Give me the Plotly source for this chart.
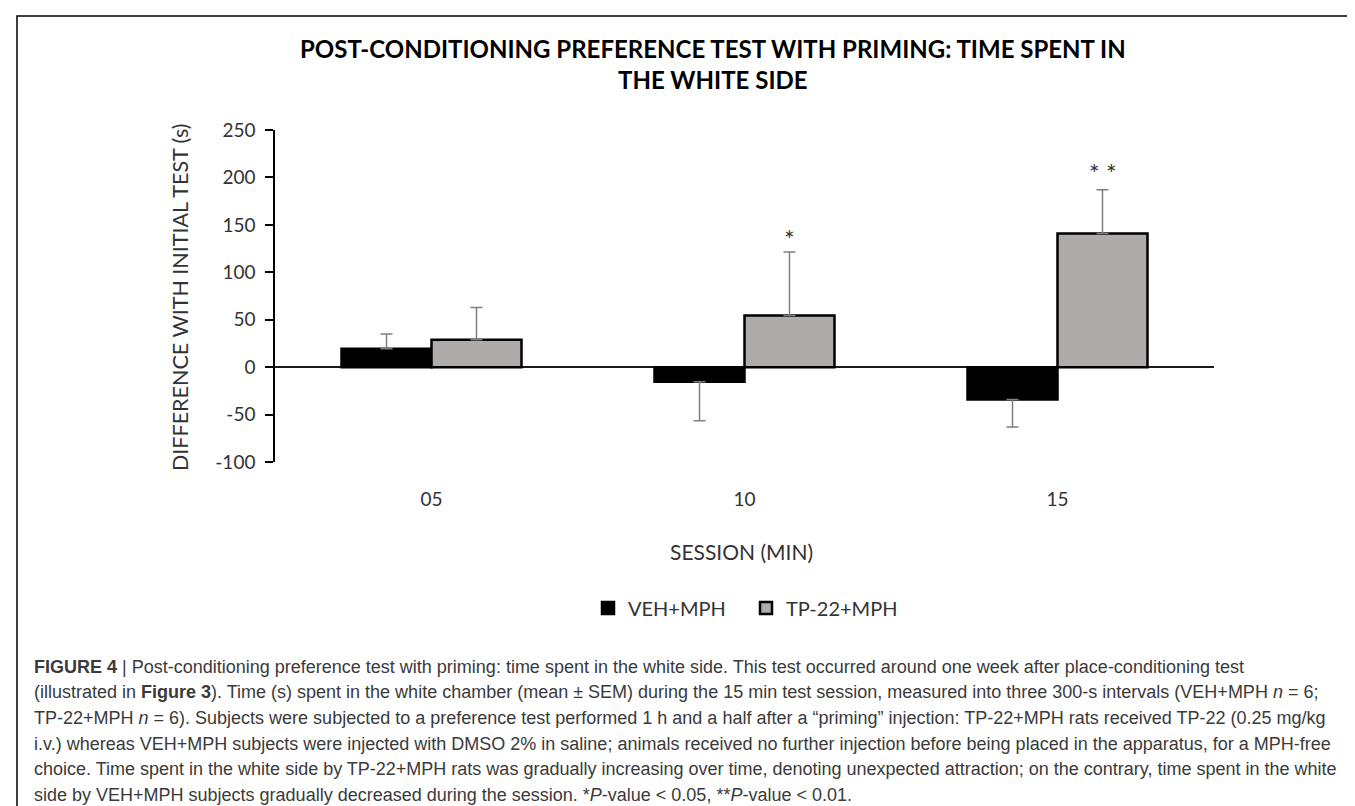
import plotly.graph_objects as go

# ---------------- data ----------------
sessions = ["05", "10", "15"]
veh_mean = [19.5, -15.5, -34]
veh_err_plus = [15.5, 0, 0]
veh_err_minus = [0, 41, 29]
tp_mean = [29, 54.5, 141]
tp_err_plus = [34, 67, 46]
tp_err_minus = [0, 0, 0]
sig_marks = ["", "*", "* *"]
sig_y = [None, 135, 205]
y_ticks = [-100, -50, 0, 50, 100, 150, 200, 250]
y_tick_text = ["-100", "-50", "0", "50", "100", "150", "200", "250"]

title_l1 = "POST-CONDITIONING PREFERENCE TEST WITH PRIMING: TIME SPENT IN"
title_l2 = "THE WHITE SIDE"
caption_lines = [
    "<b>FIGURE 4</b> | Post-conditioning preference test with priming: time spent in the white side. This test occurred around one week after place-conditioning test",
    "(illustrated in <b>Figure 3</b>). Time (s) spent in the white chamber (mean ± SEM) during the 15 min test session, measured into three 300-s intervals (VEH+MPH <i>n</i> = 6;",
    "TP-22+MPH <i>n</i> = 6). Subjects were subjected to a preference test performed 1 h and a half after a \u201cpriming\u201d injection: TP-22+MPH rats received TP-22 (0.25 mg/kg",
    "i.v.) whereas VEH+MPH subjects were injected with DMSO 2% in saline; animals received no further injection before being placed in the apparatus, for a MPH-free",
    "choice. Time spent in the white side by TP-22+MPH rats was gradually increasing over time, denoting unexpected attraction; on the contrary, time spent in the white",
    "side by VEH+MPH subjects gradually decreased during the session. *<i>P</i>-value &lt; 0.05, **<i>P</i>-value &lt; 0.01.",
]

# ---------------- layout geometry ----------------
W, H = 1355, 806
L, R, T, B = 267, 149, 122, 352
PW, PH = W - L - R, H - T - B


def px(x):
    return (x - L) / PW


def py(y):
    return 1 - (y - T) / PH


FONT = "Lato, Carlito, 'Open Sans', sans-serif"
CAP_FONT = "'Liberation Sans', Arial, sans-serif"

fig = go.Figure()
fig.add_trace(go.Bar(
    x=sessions, y=veh_mean, name="VEH+MPH",
    marker=dict(color="#000000", line=dict(color="#000000", width=2.5)),
    error_y=dict(type="data", symmetric=False, array=veh_err_plus,
                 arrayminus=veh_err_minus, color="#7f7f7f", thickness=1.5, width=6),
))
fig.add_trace(go.Bar(
    x=sessions, y=tp_mean, name="TP-22+MPH",
    marker=dict(color="#afabaa", line=dict(color="#000000", width=2.5)),
    error_y=dict(type="data", symmetric=False, array=tp_err_plus,
                 arrayminus=tp_err_minus, color="#7f7f7f", thickness=1.5, width=6),
))

annotations = []
# significance stars over the TP-22+MPH bars (x given as category index)
for i, (m, yv) in enumerate(zip(sig_marks, sig_y)):
    if m:
        annotations.append(dict(x=i, y=yv, xref="x", yref="y", text=m, showarrow=False,
                                xshift=45, font=dict(family=FONT, size=25, color="#333333")))

# title
annotations.append(dict(x=px(705), y=py(40), xref="paper", yref="paper", text="<b>" + title_l1 + "</b>",
                        showarrow=False, xanchor="center", yanchor="middle",
                        font=dict(family=FONT, size=24, color="#000000")))
annotations.append(dict(x=px(705), y=py(71), xref="paper", yref="paper", text="<b>" + title_l2 + "</b>",
                        showarrow=False, xanchor="center", yanchor="middle",
                        font=dict(family=FONT, size=24, color="#000000")))
# y-axis title
annotations.append(dict(x=px(172), y=py(289), xref="paper", yref="paper",
                        text="DIFFERENCE WITH INITIAL TEST (s)", textangle=-90,
                        showarrow=False, xanchor="center", yanchor="middle",
                        font=dict(family=FONT, size=21.5, color="#333333")))
# x-axis title
annotations.append(dict(x=px(733), y=py(543), xref="paper", yref="paper",
                        text="SESSION (MIN)", showarrow=False, xanchor="center", yanchor="middle",
                        font=dict(family=FONT, size=21, color="#333333")))
# caption
for i, line in enumerate(caption_lines):
    annotations.append(dict(x=px(24), y=py(658.5 + 25.7 * i), xref="paper", yref="paper",
                            text=line, showarrow=False, xanchor="left", yanchor="middle",
                            align="left", font=dict(family=CAP_FONT, size=18, color="#3a3a3a")))

shapes = [dict(type="rect", xref="paper", yref="paper",
               x0=px(9), x1=px(1352), y0=py(8), y1=py(812),
               line=dict(color="#000000", width=1.5), fillcolor="rgba(0,0,0,0)", layer="above")]

fig.update_layout(
    width=W, height=H,
    margin=dict(l=L, r=R, t=T, b=B, pad=0),
    paper_bgcolor="white", plot_bgcolor="white",
    barmode="group", bargap=0.425, bargroupgap=0,
    showlegend=True,
    legend=dict(orientation="h", x=px(580), y=py(600), xanchor="left", yanchor="middle",
                font=dict(family=FONT, size=20, color="#333333"),
                entrywidth=113, entrywidthmode="pixels", bgcolor="rgba(0,0,0,0)"),
    xaxis=dict(type="category", range=[-0.5, 2.5], autorange=False,
               showline=False, ticks="", showgrid=False, zeroline=False,
               tickfont=dict(family=FONT, size=19, color="#333333"),
               ticklabelstandoff=24),
    yaxis=dict(range=[-100, 250], autorange=False, tickvals=y_ticks, ticktext=y_tick_text,
               showgrid=False,
               showline=True, linecolor="#000000", linewidth=1.5,
               ticks="outside", ticklen=8, tickwidth=1.5, tickcolor="#000000",
               zeroline=True, zerolinecolor="#1a1a1a", zerolinewidth=2,
               tickfont=dict(family=FONT, size=19, color="#333333"),
               ticklabelstandoff=6),
    annotations=annotations,
    shapes=shapes,
)

fig.write_html("out.html")
